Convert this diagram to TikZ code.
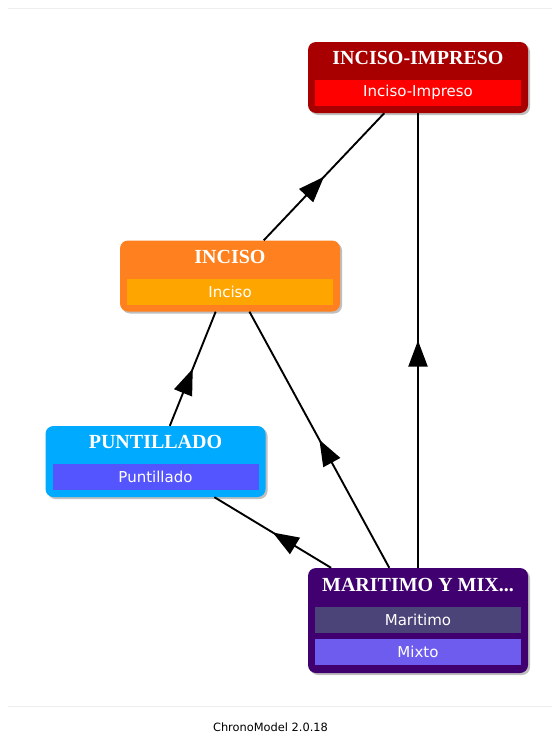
\documentclass[tikz,border=0pt]{standalone}
\usepackage{fontspec}
\setmainfont{Liberation Serif}
\newfontfamily\barfont{DejaVu Sans}
\usetikzlibrary{arrows.meta,decorations.markings,shadows,positioning}

\definecolor{impdark}{HTML}{A80000}
\definecolor{impbar}{HTML}{FF0000}
\definecolor{incdark}{HTML}{FF801E}
\definecolor{incbar}{HTML}{FFA500}
\definecolor{pundark}{HTML}{00AAFF}
\definecolor{punbar}{HTML}{5555FF}
\definecolor{mardark}{HTML}{40006F}
\definecolor{marbara}{HTML}{4A4478}
\definecolor{marbarb}{HTML}{6E5CEE}
\definecolor{rule}{HTML}{EEEEEE}

\begin{document}
\begin{tikzpicture}[x=1pt,y=-1pt,
    box/.style={rounded corners=8pt, inner sep=0pt, minimum width=220pt, minimum height=71pt,
      drop shadow={shadow xshift=2pt, shadow yshift=-2pt, opacity=0.5}},
    ttl/.style={inner sep=0pt, text=white, font=\bfseries\fontsize{20}{24}\selectfont},
    bar/.style={inner sep=0pt, minimum width=206pt, minimum height=26pt, text=white,
      font=\barfont\fontsize{15}{18}\selectfont},
    link/.style={line width=1.9pt, postaction={decorate},
      decoration={markings, mark=at position 0.5 with {\arrow{Triangle[length=26pt,width=19pt]}}}}]

    % Page and rules
    \useasboundingbox[fill=white] (0,0) rectangle (552,736);
    \draw[rule, line width=1pt] (8,8) -- (552,8);
    \draw[rule, line width=1pt] (8,706) -- (552,706);

    % Groups
    \node[box, fill=impdark] (imp) at (418,77.5) {};
    \node[box, fill=incdark] (inc) at (230,276) {};
    \node[box, fill=pundark] (pun) at (155.5,461.5) {};
    \node[box, fill=mardark, minimum height=105pt] (mar) at (418,620.5) {};

    % Titles
    \node[ttl] (imp-t) at ([yshift=-16pt]imp.north) {INCISO-IMPRESO};
    \node[ttl] (inc-t) at ([yshift=-17pt]inc.north) {INCISO};
    \node[ttl] (pun-t) at ([yshift=-16pt]pun.north) {PUNTILLADO};
    \node[ttl] (mar-t) at ([yshift=-17pt]mar.north) {MARITIMO Y MIX...};

    % Phases
    \node[bar, fill=impbar] (imp-a) at ([yshift=-51pt]imp.north) {Inciso-Impreso};
    \node[bar, fill=incbar] (inc-a) at ([yshift=-52pt]inc.north) {Inciso};
    \node[bar, fill=punbar] (pun-a) at ([yshift=-51pt]pun.north) {Puntillado};
    \node[bar, fill=marbara] (mar-a) at ([yshift=-52pt]mar.north) {Maritimo};
    \node[bar, fill=marbarb, below=6pt of mar-a] (mar-b) {Mixto};

    % Relations
    \draw[link] (inc) -- (imp);
    \draw[link] (pun) -- (inc);
    \draw[link] (mar) -- (pun);
    \draw[link] (mar) -- (inc);
    \draw[link] (mar) -- (imp);

    % Footer
    \node[font=\barfont\fontsize{11.4}{14}\selectfont] (foot) at (270.5,727) {ChronoModel 2.0.18};

\end{tikzpicture}
\end{document}
